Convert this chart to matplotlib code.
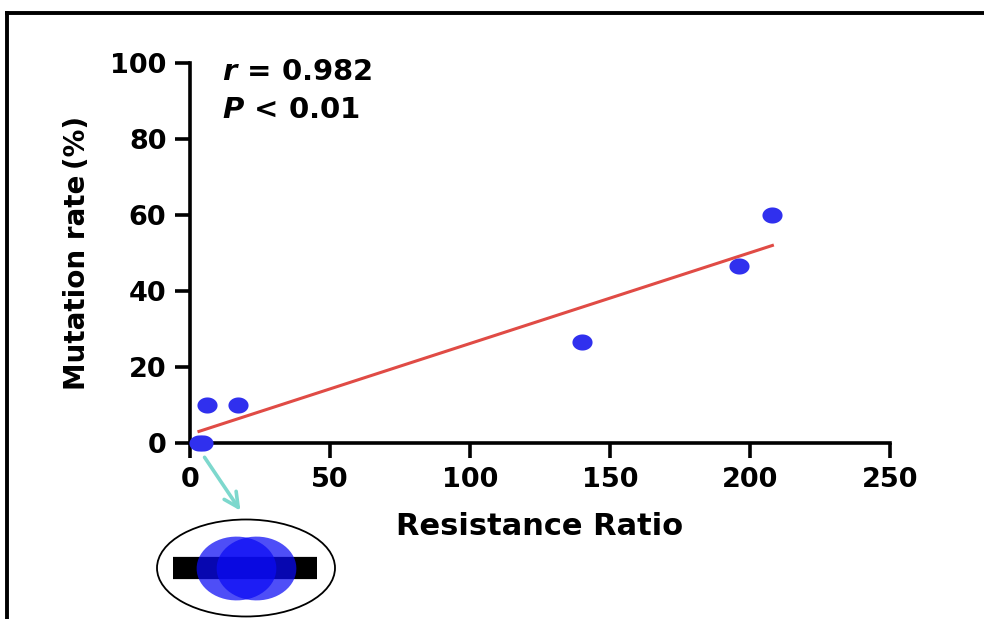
import matplotlib
matplotlib.use("Agg")
import matplotlib.pyplot as plt
import numpy as np
from matplotlib.patches import Ellipse, FancyArrowPatch
from matplotlib.lines import Line2D

plt.rcParams['font.family'] = ['DejaVu Sans', 'Noto Sans CJK SC']
plt.rcParams['font.weight'] = 'bold'
plt.rcParams['mathtext.fontset'] = 'custom'
plt.rcParams['mathtext.bfit'] = 'DejaVu Sans:italic:bold'
plt.rcParams['mathtext.bf'] = 'DejaVu Sans:bold'

# data
resistance_ratio = [3.2, 4.8, 6, 17, 140, 196, 208]
mutation_rate = [0, 0, 10, 10, 26.7, 46.7, 60]
zero_x = [3.2, 4.8]
zero_y = [0, 0]
x_ticks = [0, 50, 100, 150, 200, 250]
y_ticks = [0, 20, 40, 60, 80, 100]

W, H = 984, 619
fig = plt.figure(figsize=(W / 100, H / 100), dpi=100)

def fx(px):
    return px / W

def fy(py):
    return 1 - py / H

ax = fig.add_axes([fx(190), fy(443), fx(890) - fx(190), fy(63) - fy(443)])

# ellipse shaped marker
t = np.linspace(0, 2 * np.pi, 60)
oval = list(zip(np.cos(t), 0.8 * np.sin(t)))

ax.scatter(resistance_ratio, mutation_rate, marker=oval, s=210,
           color='#3030ee', zorder=3, clip_on=False, linewidths=0)

k, b = np.polyfit(resistance_ratio, mutation_rate, 1)
xs = np.array([min(resistance_ratio), max(resistance_ratio)])
ax.plot(xs, k * xs + b, color='#e04b45', lw=2.2, zorder=2)

ax.set_xlim(0, 250)
ax.set_ylim(0, 100)
ax.set_xticks(x_ticks)
ax.set_yticks(y_ticks)
for s in ['top', 'right']:
    ax.spines[s].set_visible(False)
for s in ['left', 'bottom']:
    ax.spines[s].set_linewidth(2.6)
ax.tick_params(width=2.6, length=11, labelsize=19.5, pad=6)
for lab in ax.get_xticklabels() + ax.get_yticklabels():
    lab.set_fontweight('bold')

ax.set_xlabel('Resistance Ratio', fontsize=22, fontweight='bold', labelpad=14)
ax.set_ylabel('Mutation rate\u2009(%)', fontsize=20, fontweight='bold', labelpad=14)

ax.text(fx(222), fy(80), r'$\mathbfit{r}$ = 0.982', transform=fig.transFigure,
        fontsize=21, fontweight='bold', va='baseline', ha='left')
ax.text(fx(222), fy(118), r'$\mathbfit{P}$ < 0.01', transform=fig.transFigure,
        fontsize=21, fontweight='bold', va='baseline', ha='left')

# magnified view of the points at zero
fig.add_artist(Ellipse((fx(246), fy(568)), fx(178), 97 / H, transform=fig.transFigure,
                       facecolor='none', edgecolor='black', lw=1.3))
ins = fig.add_axes([fx(173), fy(605), fx(317) - fx(173), (605 - 530) / H])
ins.axhline(0, color='black', lw=16, zorder=1)
ins.scatter(zero_x, zero_y, marker=oval, s=3300, color='#0a0af5', alpha=0.72,
            linewidths=0, zorder=2)
ins.set_xlim(4 - 7.3 * 1.6 / 2, 4 + 7.1 * 1.6 / 2)
ins.set_ylim(-1, 1)
ins.axis('off')

fig.add_artist(FancyArrowPatch((fx(203), fy(455)), (fx(242), fy(513)),
                               transform=fig.transFigure, arrowstyle='->',
                               mutation_scale=26, color='#7dd8cd', lw=2.6))

# outer frame
fig.add_artist(Line2D([fx(7), 1], [fy(13), fy(13)], color='black', lw=2.8,
                      transform=fig.transFigure))
fig.add_artist(Line2D([fx(7), fx(7)], [fy(13), 0], color='black', lw=2.8,
                      transform=fig.transFigure))

fig.savefig('out.png', dpi=100)
